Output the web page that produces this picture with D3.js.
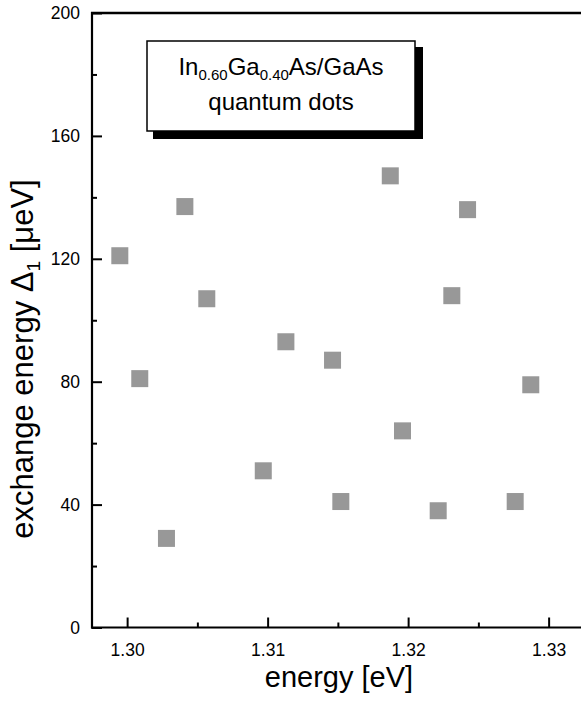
<!DOCTYPE html>
<html>
<head>
<meta charset="utf-8">
<script src="https://cdn.jsdelivr.net/npm/d3@7"></script>
<style>
  html, body { margin: 0; padding: 0; background: #fff; }
  svg { display: block; font-family: Arial, "Liberation Sans", Helvetica, sans-serif; }
</style>
</head>
<body>
<svg id="chart" width="581" height="704"></svg>
<script>
// Photon energy of each quantum dot (eV)
const energy = [1.29948, 1.30090, 1.30280, 1.30411, 1.30567, 1.30969, 1.31130, 1.31462,
                1.31521, 1.31873, 1.31960, 1.32214, 1.32311, 1.32423, 1.32762, 1.32873];
// Exchange energy Δ1 (µeV)
const exchange = [121, 81, 29, 137, 107, 51, 93, 87,
                  41, 147, 64, 38, 108, 136, 41, 79];

const xTicks = [1.30, 1.31, 1.32, 1.33];
const xMinorTicks = [1.305, 1.315, 1.325];
const yTicks = [0, 40, 80, 120, 160, 200];
const yMinorTicks = [20, 60, 100, 140, 180];

const svg = d3.select("#chart");

const x = d3.scaleLinear().domain([1.2975, 1.3325]).range([92, 583.75]);
const y = d3.scaleLinear().domain([0, 200]).range([627.5, 13]);

const axisColor = "#000";
const axisWidth = 2.2;

// markers
const size = 17;
svg.append("g")
  .selectAll("rect")
  .data(energy.map((e, i) => ({ e, v: exchange[i] })))
  .join("rect")
  .attr("x", d => x(d.e) - size / 2)
  .attr("y", d => y(d.v) - size / 2)
  .attr("width", size)
  .attr("height", size)
  .attr("fill", "#989898");

function styleAxis(g) {
  g.select(".domain").remove();
  g.selectAll(".tick line").attr("stroke", axisColor).attr("stroke-width", 2);
  g.selectAll("text")
    .attr("fill", "#000")
    .style("font-size", "17.5px")
    .style("font-family", "Arial, 'Liberation Sans', sans-serif");
}

// bottom axis: major + minor ticks pointing inward
svg.append("g")
  .attr("transform", `translate(0,${y(0)})`)
  .call(d3.axisBottom(x).tickValues(xTicks).tickSize(-10).tickPadding(16).tickFormat(d3.format(".2f")))
  .call(styleAxis);
svg.append("g")
  .attr("transform", `translate(0,${y(0)})`)
  .call(d3.axisBottom(x).tickValues(xMinorTicks).tickSize(-5).tickFormat(""))
  .call(styleAxis);

// left axis
svg.append("g")
  .attr("transform", `translate(${x.range()[0]},0)`)
  .call(d3.axisLeft(y).tickValues(yTicks).tickSize(-10).tickPadding(12).tickFormat(d3.format("d")))
  .call(styleAxis);
svg.append("g")
  .attr("transform", `translate(${x.range()[0]},0)`)
  .call(d3.axisLeft(y).tickValues(yMinorTicks).tickSize(-5).tickFormat(""))
  .call(styleAxis);

// frame lines
const frame = svg.append("g").attr("stroke", axisColor).attr("stroke-width", axisWidth);
frame.append("line").attr("x1", x.range()[0] - 1).attr("x2", 581).attr("y1", y(0)).attr("y2", y(0));
frame.append("line").attr("x1", x.range()[0]).attr("x2", x.range()[0]).attr("y1", y(200) - 1).attr("y2", y(0) + 1);
frame.append("line").attr("x1", x.range()[0] - 1).attr("x2", 581).attr("y1", y(200)).attr("y2", y(200)).attr("stroke-width", 2.6);

// axis titles
svg.append("text")
  .attr("x", 339).attr("y", 687)
  .attr("text-anchor", "middle")
  .style("font-size", "29px")
  .text("energy [eV]");

const yt = svg.append("text")
  .attr("transform", "translate(33,359) rotate(-90)")
  .attr("text-anchor", "middle")
  .style("font-size", "31px");
yt.append("tspan").text("exchange energy Δ");
yt.append("tspan").attr("dy", 7).style("font-size", "19px").text("1");
yt.append("tspan").attr("dy", -7).text(" [μeV]");

// sample label box with drop shadow
const box = svg.append("g");
box.append("rect").attr("x", 153).attr("y", 47).attr("width", 270).attr("height", 92).attr("fill", "#000");
box.append("rect").attr("x", 147).attr("y", 41).attr("width", 268).attr("height", 90)
  .attr("fill", "#fff").attr("stroke", "#000").attr("stroke-width", 1.5);

const l1 = box.append("text").attr("x", 281).attr("y", 75).attr("text-anchor", "middle").style("font-size", "24px");
l1.append("tspan").text("In");
l1.append("tspan").attr("dy", 5).style("font-size", "15px").text("0.60");
l1.append("tspan").attr("dy", -5).text("Ga");
l1.append("tspan").attr("dy", 5).style("font-size", "15px").text("0.40");
l1.append("tspan").attr("dy", -5).text("As/GaAs");

box.append("text").attr("x", 281).attr("y", 110).attr("text-anchor", "middle").style("font-size", "24px")
  .text("quantum dots");
</script>
</body>
</html>
